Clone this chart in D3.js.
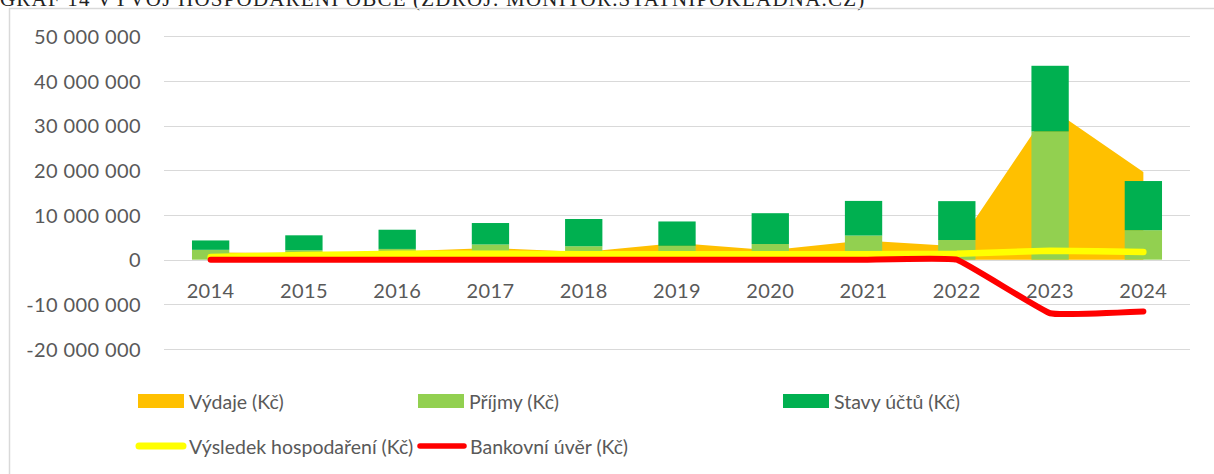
<!DOCTYPE html>
<html>
<head>
<meta charset="utf-8">
<script src="https://cdn.jsdelivr.net/npm/d3@7"></script>
<style>
  body { margin: 0; background: #fff; }
  svg { display: block; }
</style>
</head>
<body>
<div id="chart"></div>
<script>
// data (Kč)
var years = ["2014", "2015", "2016", "2017", "2018", "2019", "2020", "2021", "2022", "2023", "2024"];
var vydaje = [1.6e6, 1.5e6, 1.8e6, 2.6e6, 1.7e6, 3.75e6, 2.1e6, 4.3e6, 3.0e6, 34.0e6, 19.6e6];
var prijmy = [2.2e6, 2.1e6, 2.4e6, 3.4e6, 3.0e6, 3.1e6, 3.5e6, 5.4e6, 4.4e6, 28.7e6, 6.6e6];
var stavyUctu = [2.1e6, 3.35e6, 4.3e6, 4.8e6, 6.1e6, 5.45e6, 6.9e6, 7.75e6, 8.7e6, 14.7e6, 11.0e6];
var vysledek = [0.6e6, 1.05e6, 1.3e6, 1.35e6, 1.2e6, 1.2e6, 1.2e6, 1.2e6, 1.35e6, 2.0e6, 1.7e6];
var uver = [0, 0, 0, 0, 0, 0, 0, 0, 0, -12.0e6, -11.6e6];
var yTicks = [-20e6, -10e6, 0, 10e6, 20e6, 30e6, 40e6, 50e6];

var title = "GRAF 14 VÝVOJ HOSPODAŘENÍ OBCE (ZDROJ: MONITOR.STATNIPOKLADNA.CZ)";

var width = 1214, height = 474;
var textColor = "#595959";
var font = "Lato, 'Open Sans', sans-serif";

var svg = d3.select("#chart").append("svg")
    .attr("width", width)
    .attr("height", height);

// title, cut off at the top of the picture like in the source
svg.append("text")
    .attr("x", 0)
    .attr("y", 6)
    .style("font-family", "'Liberation Serif', 'DejaVu Serif', serif")
    .style("font-size", "21px")
    .style("letter-spacing", "1.2px")
    .attr("fill", "#222")
    .text(title);

// chart frame
svg.append("path")
    .attr("d", "M9.5," + height + "V8.5H" + width)
    .attr("fill", "none")
    .attr("stroke", "#d9d9d9")
    .attr("stroke-width", 1.5);

var x = d3.scaleBand()
    .domain(years)
    .range([164, 1190])
    .paddingInner(0.6)
    .paddingOuter(0.3);

var y = d3.scaleLinear()
    .domain([-20e6, 50e6])
    .range([349, 36.3]);

function cx(i) { return x(years[i]) + x.bandwidth() / 2; }

var fmt = function(v) {
    return d3.format(",")(v).replace(/,/g, " ").replace("\u2212", "-");
};

// gridlines
svg.append("g").selectAll("line")
    .data(yTicks)
    .enter().append("line")
    .attr("x1", 164)
    .attr("x2", 1190)
    .attr("y1", function(d) { return Math.round(y(d)) + 0.5; })
    .attr("y2", function(d) { return Math.round(y(d)) + 0.5; })
    .attr("stroke", "#d9d9d9")
    .attr("stroke-width", 1);

// y axis labels
var yAxis = d3.axisLeft(y).tickValues(yTicks).tickFormat(fmt).tickSize(0).tickPadding(0);
var gy = svg.append("g")
    .attr("transform", "translate(141,0)")
    .call(yAxis);
gy.select(".domain").remove();
gy.selectAll("text")
    .attr("dy", "0.36em")
    .style("font-family", font)
    .style("font-size", "20px")
    .style("letter-spacing", "0.4px")
    .attr("fill", textColor);

// area of expenses (behind the bars)
var area = d3.area()
    .x(function(d, i) { return cx(i); })
    .y0(y(0))
    .y1(function(d) { return y(d); });

svg.append("path")
    .datum(vydaje)
    .attr("d", area)
    .attr("fill", "#FFC000");

// stacked bars
var rows = years.map(function(yr, i) {
    return { year: yr, prijmy: prijmy[i], stavy: stavyUctu[i] };
});
var stack = d3.stack().keys(["prijmy", "stavy"]);
var layers = stack(rows);
var barColors = { prijmy: "#92D050", stavy: "#00B050" };

svg.append("g").selectAll("g")
    .data(layers)
    .enter().append("g")
    .attr("fill", function(d) { return barColors[d.key]; })
    .selectAll("rect")
    .data(function(d) { return d; })
    .enter().append("rect")
    .attr("x", function(d) { return x(d.data.year); })
    .attr("width", x.bandwidth())
    .attr("y", function(d) { return y(d[1]); })
    .attr("height", function(d) { return y(d[0]) - y(d[1]); });

// smoothed lines
var line = d3.line()
    .x(function(d, i) { return cx(i); })
    .y(function(d) { return y(d); })
    .curve(d3.curveCardinal.tension(0.75));

svg.append("path")
    .datum(vysledek)
    .attr("d", line)
    .attr("fill", "none")
    .attr("stroke", "#FFFF00")
    .attr("stroke-width", 6.5)
    .attr("stroke-linecap", "round")
    .attr("stroke-linejoin", "round");

svg.append("path")
    .datum(uver)
    .attr("d", line)
    .attr("fill", "none")
    .attr("stroke", "#FF0000")
    .attr("stroke-width", 6)
    .attr("stroke-linecap", "round")
    .attr("stroke-linejoin", "round");

// x labels next to the zero line
svg.append("g").selectAll("text")
    .data(years)
    .enter().append("text")
    .attr("x", function(d, i) { return cx(i); })
    .attr("y", 298)
    .attr("text-anchor", "middle")
    .style("font-family", font)
    .style("font-size", "20px")
    .style("letter-spacing", "0.4px")
    .attr("fill", textColor)
    .text(function(d) { return d; });

// legend
var legendItems = [
    { name: "Výdaje (Kč)", color: "#FFC000", type: "rect", x: 138, y: 401 },
    { name: "Příjmy (Kč)", color: "#92D050", type: "rect", x: 418, y: 401 },
    { name: "Stavy účtů (Kč)", color: "#00B050", type: "rect", x: 783, y: 401 },
    { name: "Výsledek hospodaření (Kč)", color: "#FFFF00", type: "line", x: 136, y: 446 },
    { name: "Bankovní úvěr (Kč)", color: "#FF0000", type: "line", x: 417, y: 446 }
];

var lg = svg.append("g").selectAll("g")
    .data(legendItems)
    .enter().append("g")
    .attr("transform", function(d) { return "translate(" + d.x + "," + d.y + ")"; });

lg.filter(function(d) { return d.type === "rect"; })
    .append("rect")
    .attr("x", 0)
    .attr("y", -7)
    .attr("width", 46)
    .attr("height", 14)
    .attr("fill", function(d) { return d.color; });

lg.filter(function(d) { return d.type === "line"; })
    .append("line")
    .attr("x1", 3)
    .attr("x2", 47)
    .attr("stroke", function(d) { return d.color; })
    .attr("stroke-width", function(d) { return d.color === "#FFFF00" ? 7 : 5.5; })
    .attr("stroke-linecap", "round");

lg.append("text")
    .attr("x", function(d) { return d.type === "rect" ? 51 : 53; })
    .attr("y", 7.5)
    .style("font-family", font)
    .style("font-size", "19.5px")
    .attr("fill", textColor)
    .text(function(d) { return d.name; });
</script>
</body>
</html>
